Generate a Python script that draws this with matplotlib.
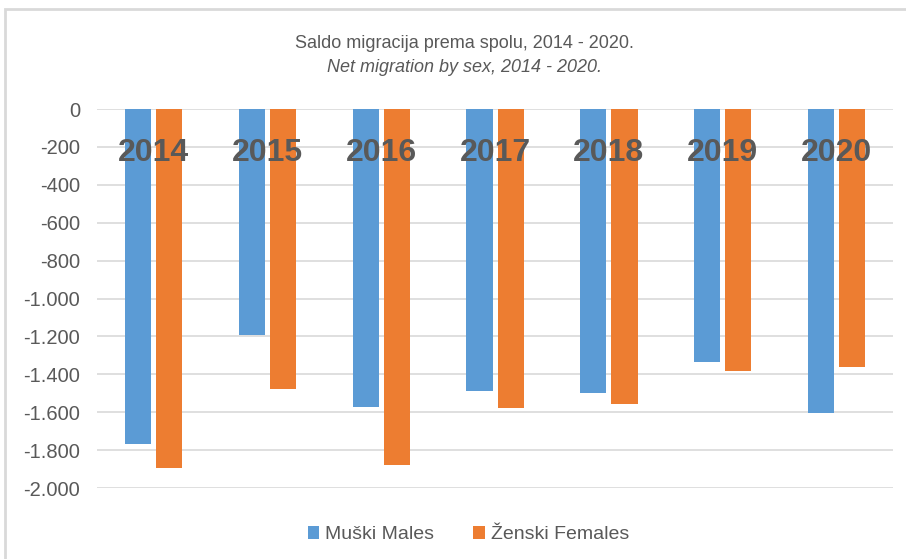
import matplotlib
matplotlib.use("Agg")
from matplotlib import pyplot as plt
from matplotlib.patches import Rectangle
import numpy as np

years = ["2014", "2015", "2016", "2017", "2018", "2019", "2020"]
males = [-1768, -1193, -1573, -1488, -1499, -1335, -1604]
females = [-1894, -1478, -1879, -1578, -1557, -1383, -1361]
y_ticks = [0, -200, -400, -600, -800, -1000, -1200, -1400, -1600, -1800, -2000]

font = ['Liberation Sans', 'DejaVu Sans']  # no narrow font installed, so Arial metrics it is
grey = '#595959'

fig = plt.figure(figsize=(9.06, 5.59), dpi=100)
fig.patch.set_facecolor('white')
ax = fig.add_axes([0.107, 0.127, 0.879, 0.678])

x = np.arange(len(years))
w = 0.23
ax.bar(x - 0.137, males, w, color='#5B9BD5', label='Muški Males', zorder=3)
ax.bar(x + 0.137, females, w, color='#ED7D31', label='Ženski Females', zorder=3)

ax.set_xlim(-0.5, len(years) - 0.5)
ax.set_ylim(-2000, 0)
ax.set_yticks(y_ticks)
ax.set_yticklabels([f"{v:,}".replace(',', '.') for v in y_ticks], family=font,
                   fontsize=14.5, color=grey)
ax.set_xticks([])
ax.tick_params(axis='y', length=0, pad=12)
ax.grid(axis='y', color='#d9d9d9', lw=1.2, zorder=0)
for s in ax.spines.values():
    s.set_visible(False)

# year labels inside the plot area
for i, yr in enumerate(years):
    ax.text(i, -230, yr, ha='center', va='center', family=font, fontweight='bold',
            fontsize=23, color=grey, zorder=4)

fig.text(0.513, 0.922, "Saldo migracija prema spolu, 2014 - 2020.", ha='center', va='center',
         family=font, fontsize=13, color=grey)
fig.text(0.513, 0.879, "Net migration by sex, 2014 - 2020.", ha='center', va='center',
         family=font, fontsize=13, color=grey, style='italic')

leg = fig.legend(loc='center', bbox_to_anchor=(0.517, 0.043), ncol=2, frameon=False,
                 prop={'family': font, 'size': 14}, handlelength=0.6, handleheight=0.6,
                 handletextpad=0.3, columnspacing=2.0)
for t in leg.get_texts():
    t.set_color(grey)

# outer chart frame
fig.patches.append(Rectangle((5 / 906, -0.1), 1.2, 1 - 9 / 559 + 0.1, transform=fig.transFigure,
                             fill=False, edgecolor='#d9d9d9', lw=2))

plt.savefig('out.png', dpi=100)
plt.close('all')
